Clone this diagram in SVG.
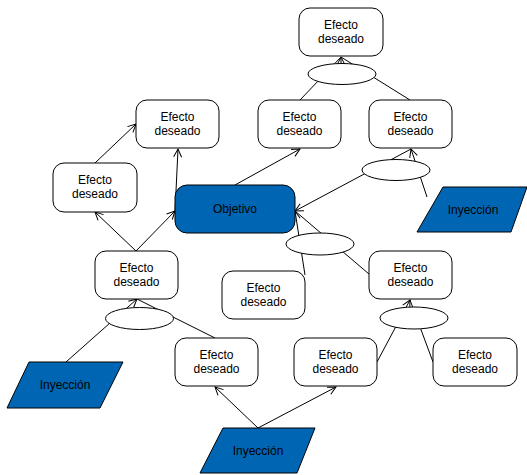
<svg xmlns="http://www.w3.org/2000/svg" width="527" height="475" viewBox="0 0 527 475">
  <defs>
    <marker id="arrow" markerUnits="userSpaceOnUse" markerWidth="12" markerHeight="12" refX="9" refY="5" orient="auto">
      <path d="M1,1 L9,5 L1,9" fill="none" stroke="#000" stroke-width="1"/>
    </marker>
    <style>
      .box { fill: #fff; stroke: #000; stroke-width: 1; }
      .goal { fill: #0066B3; stroke: #000; stroke-width: 1; }
      .inj { fill: #0066B3; stroke: #000; stroke-width: 1; }
      .and { fill: #fff; stroke: #000; stroke-width: 1; }
      .lbl { font-family: "Liberation Sans", Arial, sans-serif; font-size: 12px; fill: #000; text-anchor: middle; }
      .edge { fill: none; stroke: #000; stroke-width: 1; }
      .arr { marker-end: url(#arrow); }
    </style>
  </defs>
  <rect width="527" height="475" fill="#fff"/>

  <!-- connectors -->
  <g id="connectors">
    <line class="edge arr" x1="95" y1="163" x2="136" y2="124"/>
    <line class="edge arr" x1="175" y1="212" x2="178" y2="149"/>
    <line class="edge arr" x1="136" y1="251" x2="95" y2="212"/>
    <line class="edge arr" x1="136" y1="251" x2="175" y2="211"/>
    <line class="edge arr" x1="235" y1="185" x2="300" y2="149"/>
    <!-- upper AND junction -->
    <line class="edge" x1="300" y1="100" x2="341" y2="57"/>
    <line class="edge" x1="410" y1="100" x2="341" y2="57"/>
    <line class="edge arr" x1="341" y1="64" x2="341" y2="57"/>
    <!-- right AND junction -->
    <line class="edge arr" x1="427" y1="197" x2="411" y2="149"/>
    <line class="edge arr" x1="411" y1="149" x2="295" y2="211"/>
    <!-- middle AND junction -->
    <line class="edge arr" x1="305" y1="275" x2="295" y2="211"/>
    <line class="edge" x1="369" y1="274" x2="295" y2="211"/>
    <!-- lower left AND junction -->
    <line class="edge arr" x1="66" y1="362" x2="137" y2="299"/>
    <line class="edge" x1="215" y1="338" x2="137" y2="299"/>
    <!-- bottom injection -->
    <line class="edge arr" x1="258" y1="428" x2="215" y2="387"/>
    <line class="edge arr" x1="258" y1="428" x2="336" y2="387"/>
    <!-- lower right AND junction -->
    <line class="edge arr" x1="377" y1="362" x2="410" y2="300"/>
    <line class="edge" x1="433" y1="362" x2="410" y2="300"/>
  </g>

  <!-- AND junctions -->
  <g id="and-top"><ellipse class="and" cx="342" cy="74" rx="34" ry="10.5"/></g>
  <g id="and-right"><ellipse class="and" cx="396" cy="170" rx="34" ry="10.5"/></g>
  <g id="and-mid"><ellipse class="and" cx="320" cy="244" rx="34" ry="11"/></g>
  <g id="and-left"><ellipse class="and" cx="139.5" cy="318.5" rx="34" ry="11"/></g>
  <g id="and-lowright"><ellipse class="and" cx="414" cy="318" rx="34" ry="11"/></g>

  <!-- effect nodes -->
  <g id="efecto-1"><rect class="box" x="299" y="8" width="84" height="48" rx="11"/>
    <text class="lbl" x="341" y="29">Efecto</text><text class="lbl" x="341" y="43">deseado</text></g>
  <g id="efecto-2"><rect class="box" x="136" y="100" width="83" height="48" rx="11"/>
    <text class="lbl" x="177.5" y="121">Efecto</text><text class="lbl" x="177.5" y="135">deseado</text></g>
  <g id="efecto-3"><rect class="box" x="258" y="100" width="83" height="48" rx="11"/>
    <text class="lbl" x="299.5" y="121">Efecto</text><text class="lbl" x="299.5" y="135">deseado</text></g>
  <g id="efecto-4"><rect class="box" x="369" y="100" width="83" height="48" rx="11"/>
    <text class="lbl" x="410.5" y="121">Efecto</text><text class="lbl" x="410.5" y="135">deseado</text></g>
  <g id="efecto-5"><rect class="box" x="53" y="163" width="84" height="49" rx="11"/>
    <text class="lbl" x="95" y="184">Efecto</text><text class="lbl" x="95" y="198">deseado</text></g>
  <g id="efecto-6"><rect class="box" x="95" y="251" width="83" height="48" rx="11"/>
    <text class="lbl" x="136.5" y="272">Efecto</text><text class="lbl" x="136.5" y="286">deseado</text></g>
  <g id="efecto-7"><rect class="box" x="222" y="271" width="83" height="48" rx="11"/>
    <text class="lbl" x="263.5" y="292">Efecto</text><text class="lbl" x="263.5" y="306">deseado</text></g>
  <g id="efecto-8"><rect class="box" x="369" y="251" width="83" height="48" rx="11"/>
    <text class="lbl" x="410.5" y="272">Efecto</text><text class="lbl" x="410.5" y="286">deseado</text></g>
  <g id="efecto-9"><rect class="box" x="175" y="338" width="83" height="48" rx="11"/>
    <text class="lbl" x="216.5" y="359">Efecto</text><text class="lbl" x="216.5" y="373">deseado</text></g>
  <g id="efecto-10"><rect class="box" x="294" y="338" width="83" height="48" rx="11"/>
    <text class="lbl" x="335.5" y="359">Efecto</text><text class="lbl" x="335.5" y="373">deseado</text></g>
  <g id="efecto-11"><rect class="box" x="433" y="338" width="84" height="48" rx="11"/>
    <text class="lbl" x="475" y="359">Efecto</text><text class="lbl" x="475" y="373">deseado</text></g>

  <!-- goal -->
  <g id="objetivo"><rect class="goal" x="175" y="185" width="120" height="48" rx="12"/>
    <text class="lbl" x="235" y="213">Objetivo</text></g>

  <!-- injections -->
  <g id="inyeccion-right"><polygon class="inj" points="443,187 527,187 511,232 417,232"/>
    <text class="lbl" x="473" y="214">Inyección</text></g>
  <g id="inyeccion-left"><polygon class="inj" points="29,362 123,362 100,408 7,408"/>
    <text class="lbl" x="65" y="389">Inyección</text></g>
  <g id="inyeccion-bottom"><polygon class="inj" points="223,428 315,428 297,473 200,473"/>
    <text class="lbl" x="258" y="455">Inyección</text></g>
</svg>
